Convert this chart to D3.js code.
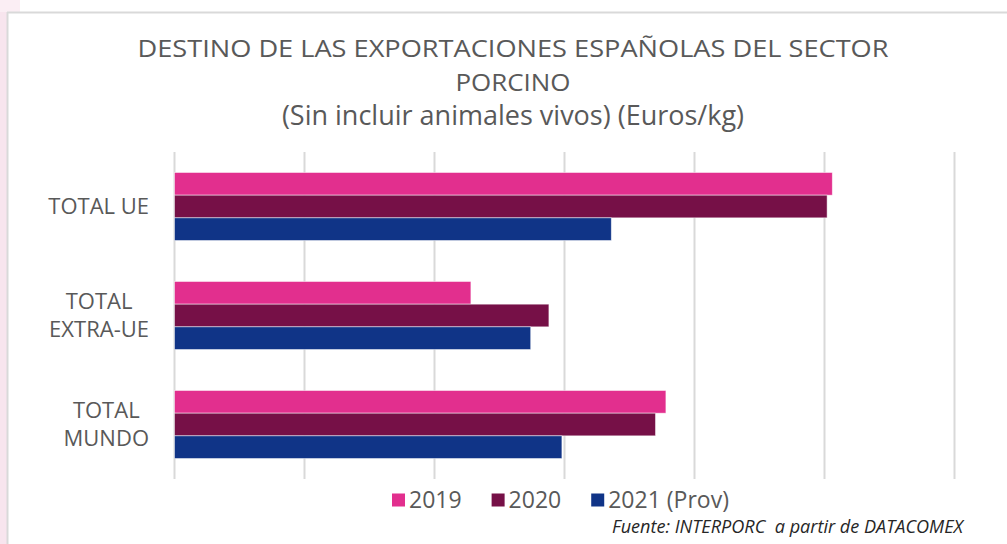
<!DOCTYPE html>
<html lang="es">
<head>
<meta charset="utf-8">
<script src="https://cdn.jsdelivr.net/npm/d3@7"></script>
<style>
  html, body { margin: 0; padding: 0; background: #ffffff; }
  svg { display: block; }
  text { font-family: "Open Sans", "Noto Sans", sans-serif; fill: #595959; }
</style>
</head>
<body>
<svg id="chart" width="1007" height="544"></svg>
<script>
// Destinos de exportación del sector porcino, euros por kg
const categories = ["TOTAL UE", "TOTAL EXTRA-UE", "TOTAL MUNDO"];
const categoryLines = [["TOTAL UE"], ["TOTAL", "EXTRA-UE"], ["TOTAL", "MUNDO"]];
const seriesNames = ["2019", "2020", "2021 (Prov)"];
const values2019 = [2.53, 1.14, 1.89];
const values2020 = [2.51, 1.44, 1.85];
const values2021 = [1.68, 1.37, 1.49];
const gridTicks = [0, 0.5, 1, 1.5, 2, 2.5, 3];
const titleLines = ["DESTINO DE LAS EXPORTACIONES ESPAÑOLAS DEL SECTOR", "PORCINO", "(Sin incluir animales vivos) (Euros/kg)"];
const sourceText = "Fuente: INTERPORC  a partir de DATACOMEX";

const seriesValues = [values2019, values2020, values2021];
const colors = ["#e22f8e", "#761047", "#103487"];

const svg = d3.select("#chart");
const W = 1007, H = 544;

// page frame: pale pink strip at the left, grey border of the chart area
svg.append("rect").attr("width", W).attr("height", H).attr("fill", "#ffffff");
svg.append("rect").attr("x", 0).attr("y", 0).attr("width", 7).attr("height", H).attr("fill", "#f8e5ee");
svg.append("rect").attr("x", 0).attr("y", 0).attr("width", 20).attr("height", 12).attr("fill", "#fbeef4");
svg.append("line").attr("x1", 7).attr("x2", W).attr("y1", 12.5).attr("y2", 12.5)
  .attr("stroke", "#d9d9d9").attr("stroke-width", 2);
svg.append("line").attr("x1", 7.5).attr("x2", 7.5).attr("y1", 12).attr("y2", H)
  .attr("stroke", "#d9d9d9").attr("stroke-width", 2);

const plot = { left: 174.5, right: 954.5, top: 152, bottom: 479 };

const x = d3.scaleLinear().domain([0, 3]).range([plot.left, plot.right]);
const y = d3.scaleBand().domain(categories).range([plot.top, plot.bottom])
  .paddingInner(0.376).paddingOuter(0.188);
const ySub = d3.scaleBand().domain(seriesNames).range([0, y.bandwidth()]);

// vertical gridlines
svg.append("g").selectAll("line").data(gridTicks).join("line")
  .attr("x1", d => x(d)).attr("x2", d => x(d))
  .attr("y1", plot.top).attr("y2", plot.bottom)
  .attr("stroke", "#d9d9d9").attr("stroke-width", 2);

// bars
const groups = svg.append("g").selectAll("g").data(categories).join("g")
  .attr("transform", c => `translate(0,${y(c)})`);
groups.selectAll("rect")
  .data((c, i) => seriesNames.map((s, j) => ({ s, j, v: seriesValues[j][i] })))
  .join("rect")
  .attr("x", x(0))
  .attr("y", d => ySub(d.s))
  .attr("width", d => x(d.v) - x(0))
  .attr("height", ySub.bandwidth())
  .attr("fill", d => colors[d.j])
  .attr("stroke", "#ffffff").attr("stroke-opacity", 0.6).attr("stroke-width", 0.8);

// category labels: block right-aligned, lines centred within the block
const labelG = svg.append("g");
categories.forEach((c, i) => {
  const lines = categoryLines[i];
  const cy = y(c) + y.bandwidth() / 2;
  const texts = lines.map((ln, k) => labelG.append("text")
    .attr("font-size", 22)
    .attr("text-anchor", "middle")
    .attr("y", cy + 7.5 + (k - (lines.length - 1) / 2) * 28.4)
    .text(ln));
  const blockW = d3.max(texts, t => t.node().getComputedTextLength());
  const right = 149;
  texts.forEach(t => t.attr("x", right - blockW / 2));
});

// title (two lines) and subtitle
const titleY = [57, 90.5, 124.5];
const titleSize = [24, 24, 27];
const titleWidth = [751, 115, null];
titleLines.forEach((t, i) => {
  const el = svg.append("text")
    .attr("x", 513).attr("y", titleY[i])
    .attr("text-anchor", "middle")
    .attr("font-size", titleSize[i])
    .text(t);
  if (titleWidth[i]) el.attr("textLength", titleWidth[i]).attr("lengthAdjust", "spacingAndGlyphs");
});

// legend
const legend = svg.append("g");
let lx = 392;
seriesNames.forEach((s, j) => {
  legend.append("rect").attr("x", lx).attr("y", 493.5).attr("width", 13).attr("height", 13)
    .attr("fill", colors[j]);
  const t = legend.append("text").attr("x", lx + 17).attr("y", 507.5)
    .attr("font-size", 23).text(s);
  lx += 17 + t.node().getComputedTextLength() + 30;
});

// source note
svg.append("text")
  .attr("x", 963).attr("y", 533)
  .attr("text-anchor", "end")
  .attr("font-size", 19)
  .attr("font-style", "italic")
  .style("fill", "#262626")
  .style("white-space", "pre")
  .attr("textLength", 351).attr("lengthAdjust", "spacingAndGlyphs")
  .text(sourceText);
</script>
</body>
</html>
